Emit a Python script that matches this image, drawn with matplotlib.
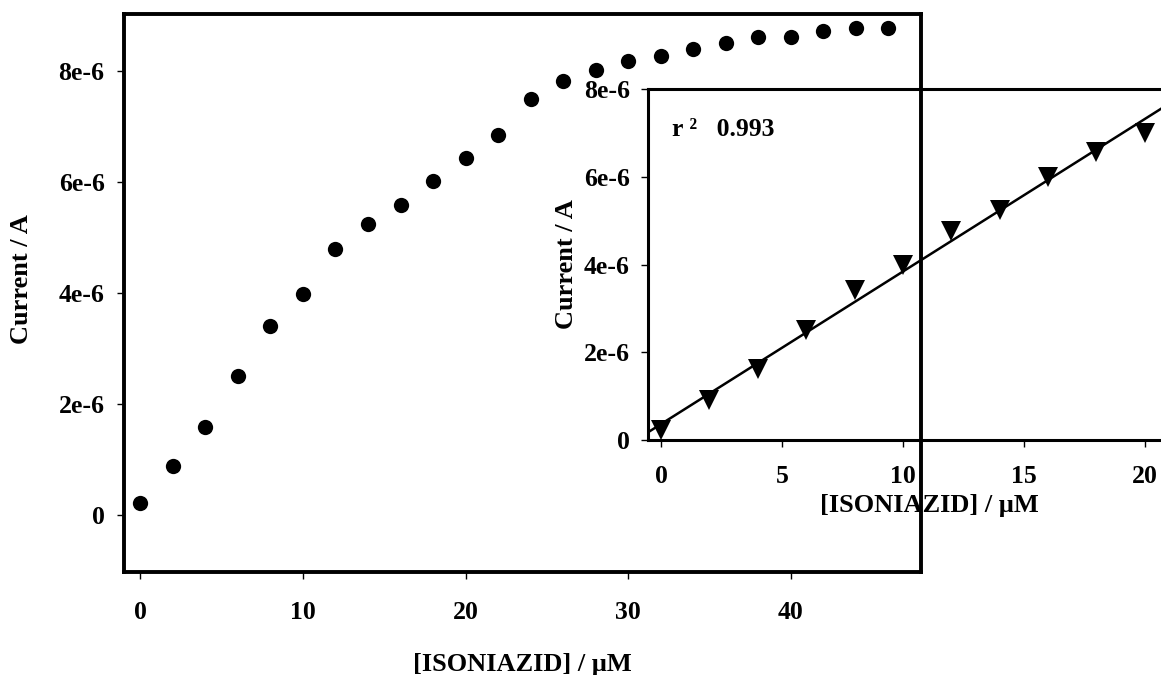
import numpy as np
import matplotlib
matplotlib.use("Agg")
import matplotlib.pyplot as plt

# Calibration data: full concentration range
conc_full = [0, 2, 4, 6, 8, 10, 12, 14, 16, 18, 20, 22, 24, 26, 28, 30,
             32, 34, 36, 38, 40, 42, 44, 46]
current_full = [0.22e-6, 0.88e-6, 1.59e-6, 2.50e-6, 3.41e-6, 3.99e-6, 4.79e-6,
                5.24e-6, 5.59e-6, 6.02e-6, 6.43e-6, 6.84e-6, 7.49e-6, 7.81e-6,
                8.02e-6, 8.17e-6, 8.26e-6, 8.39e-6, 8.50e-6, 8.61e-6, 8.61e-6,
                8.71e-6, 8.77e-6, 8.77e-6]

# Linear range (inset)
conc_lin = [0, 2, 4, 6, 8, 10, 12, 14, 16, 18, 20]
current_lin = [0.22e-6, 0.91e-6, 1.61e-6, 2.51e-6, 3.42e-6, 3.99e-6, 4.77e-6,
               5.24e-6, 6.00e-6, 6.57e-6, 6.99e-6]
r_squared = "0.993"

main_xticks = [0, 10, 20, 30, 40]
main_yticks = [0, 2e-6, 4e-6, 6e-6, 8e-6]
main_yticklabels = ["0", "2e-6", "4e-6", "6e-6", "8e-6"]
inset_xticks = [0, 5, 10, 15, 20]
inset_yticks = [0, 2e-6, 4e-6, 6e-6, 8e-6]
inset_yticklabels = ["0", "2e-6", "4e-6", "6e-6", "8e-6"]

xlabel = "[ISONIAZID] / \u03bcM"
ylabel = "Current / A"

plt.rcParams["font.family"] = ["Liberation Serif", "DejaVu Serif"]
plt.rcParams["font.weight"] = "bold"

W, H = 1161, 675
fig = plt.figure(figsize=(W / 100, H / 100), dpi=100)
fig.patch.set_facecolor("white")

tick_fs = 18.5
label_fs = 19


def px_rect(x0, y0, x1, y1):
    return [x0 / W, 1 - y1 / H, (x1 - x0) / W, (y1 - y0) / H]


# ---- main axes ----
ax = fig.add_axes(px_rect(124, 14, 921, 572))
ax.plot(conc_full, current_full, "o", color="black", markersize=11,
        markeredgewidth=0, zorder=3)
ax.set_xlim(-1.0, 48.0)
ax.set_ylim(-1.02e-6, 9.02e-6)
ax.set_xticks(main_xticks)
ax.set_xticklabels([str(t) for t in main_xticks])
ax.set_yticks(main_yticks)
ax.set_yticklabels(main_yticklabels)
for s in ["left", "bottom", "right", "top"]:
    ax.spines[s].set_linewidth(2.8)
ax.tick_params(axis="both", direction="out", length=5, width=1.0,
               labelsize=tick_fs)
ax.tick_params(axis="x", pad=16)
ax.tick_params(axis="y", pad=9)
ax.set_xlabel(xlabel, fontsize=label_fs, fontweight="bold")
ax.set_ylabel(ylabel, fontsize=label_fs, fontweight="bold")
ax.xaxis.set_label_coords(0.5, -0.145)
ax.yaxis.set_label_coords(-0.114, 0.525)
for t in ax.get_xticklabels() + ax.get_yticklabels():
    t.set_fontweight("bold")

# ---- inset: linear range with regression ----
ax2 = fig.add_axes(px_rect(648, 89, 1210, 440))
ax2.patch.set_alpha(0.0)
ax2.plot(conc_lin, current_lin, "v", color="black", markersize=14,
         markeredgewidth=0, zorder=3)
slope, intercept = np.polyfit(conc_lin, current_lin, 1)
x_lo, x_hi = -0.54, 22.7
fit_x = np.array([x_lo, x_hi])
ax2.plot(fit_x, slope * fit_x + intercept, color="black", linewidth=1.8,
         zorder=2)
ax2.set_xlim(x_lo, x_hi)
ax2.set_ylim(0, 8e-6)
ax2.set_xticks(inset_xticks)
ax2.set_xticklabels([str(t) for t in inset_xticks])
ax2.set_yticks(inset_yticks)
ax2.set_yticklabels(inset_yticklabels)
for s in ["left", "bottom", "right", "top"]:
    ax2.spines[s].set_linewidth(2.2)
ax2.tick_params(axis="both", direction="out", length=5, width=1.0,
                labelsize=tick_fs)
ax2.tick_params(axis="x", pad=13)
ax2.tick_params(axis="y", pad=8)
ax2.set_xlabel(xlabel, fontsize=label_fs, fontweight="bold")
ax2.set_ylabel(ylabel, fontsize=label_fs, fontweight="bold")
ax2.xaxis.set_label_coords(0.5, -0.154)
ax2.yaxis.set_label_coords(-0.125, 0.5)
for t in ax2.get_xticklabels() + ax2.get_yticklabels():
    t.set_fontweight("bold")
ax2.text(0.043, 0.885, "r \u00b2   " + r_squared, transform=ax2.transAxes,
         fontsize=tick_fs, fontweight="bold", ha="left", va="center")

fig.savefig("out.png", dpi=100, facecolor="white")
